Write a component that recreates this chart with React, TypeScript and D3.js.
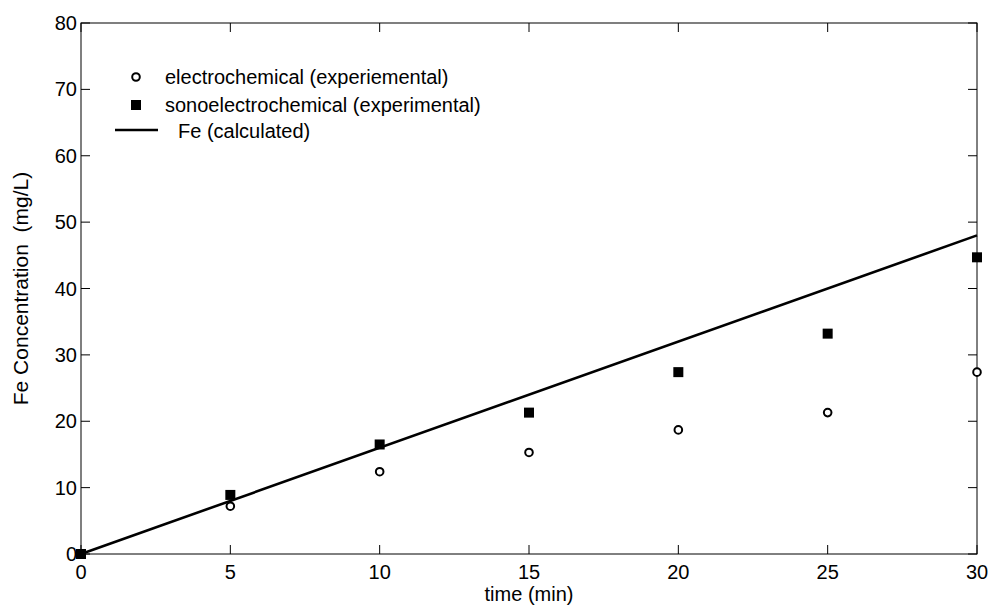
import React from 'react';
import * as d3 from 'd3';

const times = [0, 5, 10, 15, 20, 25, 30];
const electroValues = [0, 7.2, 12.4, 15.3, 18.7, 21.3, 27.4];
const sonoValues = [0, 8.9, 16.5, 21.3, 27.4, 33.2, 44.7];
const calcTimes = [0, 30];
const calcValues = [0, 48];
const xTicks = [0, 5, 10, 15, 20, 25, 30];
const yTicks = [0, 10, 20, 30, 40, 50, 60, 70, 80];

const W = 989;
const H = 608;
const margin = { left: 81, right: 12, top: 23, bottom: 54 };
const FONT = 'Liberation Sans, Arial, sans-serif';
const FS = 20;

const App: React.FC = () => {
  const x = d3.scaleLinear().domain([0, 30]).range([margin.left, W - margin.right]);
  const y = d3.scaleLinear().domain([0, 80]).range([H - margin.bottom, margin.top]);
  const [x0, x1] = x.range();
  const [y0, y1] = y.range();
  const tick = 9;

  const line = d3.line<number>()
    .x((_, i) => x(calcTimes[i]))
    .y(d => y(d));

  return (
    <svg width={W} height={H} style={{ position: 'absolute', left: 0, top: 0, background: '#fff' }}
      fontFamily={FONT}>
      {/* box */}
      <rect x={x0} y={y1} width={x1 - x0} height={y0 - y1} fill="none" stroke="#000" strokeWidth={1} />

      {/* y ticks */}
      {yTicks.map(t => (
        <g key={'y' + t}>
          <line x1={x0} x2={x0 + tick} y1={y(t)} y2={y(t)} stroke="#000" />
          <line x1={x1} x2={x1 - tick} y1={y(t)} y2={y(t)} stroke="#000" />
          <text x={x0 - 4} y={y(t) + 7} textAnchor="end" fontSize={FS} fill="#000">{t}</text>
        </g>
      ))}

      {/* x ticks */}
      {xTicks.map(t => (
        <g key={'x' + t}>
          <line x1={x(t)} x2={x(t)} y1={y0} y2={y0 - tick} stroke="#000" />
          <line x1={x(t)} x2={x(t)} y1={y1} y2={y1 + tick} stroke="#000" />
          <text x={x(t)} y={y0 + 25} textAnchor="middle" fontSize={FS} fill="#000">{t}</text>
        </g>
      ))}

      {/* axis labels */}
      <text x={(x0 + x1) / 2} y={H - 7} textAnchor="middle" fontSize={FS} fill="#000">time (min)</text>
      <text transform={`translate(28,${(y0 + y1) / 2}) rotate(-90)`} textAnchor="middle" fontSize={FS + 1}
        fill="#000" style={{ whiteSpace: 'pre' }}>{'Fe Concentration  (mg/L)'}</text>

      {/* calculated line */}
      <path d={line(calcValues) || ''} fill="none" stroke="#000" strokeWidth={2.6} />

      {/* electrochemical */}
      {electroValues.map((v, i) => (
        <circle key={'e' + i} cx={x(times[i])} cy={y(v)} r={3.8} fill="#fff" stroke="#000" strokeWidth={2} />
      ))}

      {/* sonoelectrochemical */}
      {sonoValues.map((v, i) => (
        <rect key={'s' + i} x={x(times[i]) - 5} y={y(v) - 5} width={10} height={10} fill="#000" />
      ))}

      {/* legend */}
      <g fontSize={FS} fill="#000">
        <circle cx={136} cy={77} r={3.8} fill="#fff" stroke="#000" strokeWidth={2} />
        <text x={165} y={84}>electrochemical (experiemental)</text>
        <rect x={131} y={100} width={10} height={10} fill="#000" />
        <text x={165} y={112}>sonoelectrochemical (experimental)</text>
        <line x1={115} x2={158} y1={130} y2={130} stroke="#000" strokeWidth={2.6} />
        <text x={178} y={138}>Fe (calculated)</text>
      </g>
    </svg>
  );
};

export default App;
